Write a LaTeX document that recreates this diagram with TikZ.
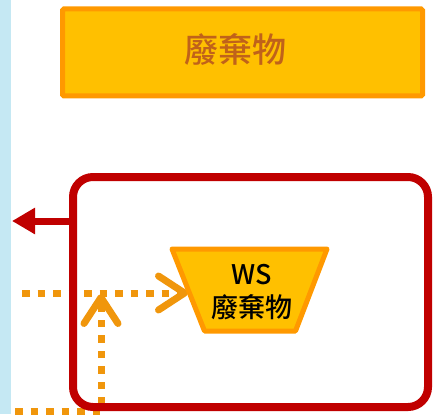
\documentclass[tikz,border=0pt]{standalone}
\usepackage{fontspec}
\setmainfont{Noto Sans CJK TC}
\newfontfamily\cjkmed{Noto Sans CJK TC Medium}
\usetikzlibrary{arrows.meta}
\definecolor{stripblue}{HTML}{C5E8F3}
\definecolor{gold}{HTML}{FFC000}
\definecolor{orangeline}{HTML}{FF9900}
\definecolor{titlebrown}{HTML}{C0621A}
\definecolor{dotorange}{HTML}{F0960C}
\definecolor{darkred}{HTML}{C00000}
\tikzset{
  titlebox/.style={draw=orangeline, fill=gold, line width=5pt, rounded corners=1.5pt, inner sep=0pt},
  titletext/.style={text=titlebrown, font=\cjkmed\fontsize{34}{36}\selectfont, inner sep=0pt},
  trapstyle/.style={draw=orangeline, fill=gold, line width=5pt, line join=round},
  wstext/.style={text=black, font=\cjkmed\fontsize{27}{30}\selectfont, align=center, inner sep=0pt},
  dotline/.style={draw=dotorange, line width=7pt, dash pattern=on 7.5pt off 8pt,
    -{Straight Barb[length=26pt, width=34pt, round]}},
  redbox/.style={draw=darkred, line width=8pt, rounded corners=20pt, inner sep=0pt},
  redarrow/.style={draw=darkred, line width=7pt, -{Triangle[length=23pt, width=25pt]}}
}
\begin{document}
\begin{tikzpicture}[x=1pt, y=-1pt]
\useasboundingbox (0,0) rectangle (435,414);
\fill[stripblue] (0,0) rectangle (11,414);
% title box
\node[titlebox, minimum width=360pt, minimum height=87pt] (title) at (242.5,52.5) {};
\node[titletext] (titletxt) at (235,49) {廢棄物};
% orange dotted connectors
\coordinate (hstart) at (22,293);
\coordinate (wsin) at (188,293);
\coordinate (bstart) at (15,411.5);
\coordinate (vend) at (101,294);
\draw[dotline] (hstart) -- (wsin);
\draw[dotline] (bstart) -| (vend);
% trapezoid
\draw[trapstyle] (172,249) -- (327,249) -- (295.5,331) -- (204.5,331) -- cycle;
\node[wstext] (ws) at (252,292) {WS\\[3pt]廢棄物};
% red box
\node[redbox, minimum width=355pt, minimum height=230pt] (rb) at (250.5,292) {};
\coordinate (rbout) at (73,221);
\coordinate (stripedge) at (12,221);
\draw[redarrow] (rbout) -- (stripedge);
\end{tikzpicture}
\end{document}
